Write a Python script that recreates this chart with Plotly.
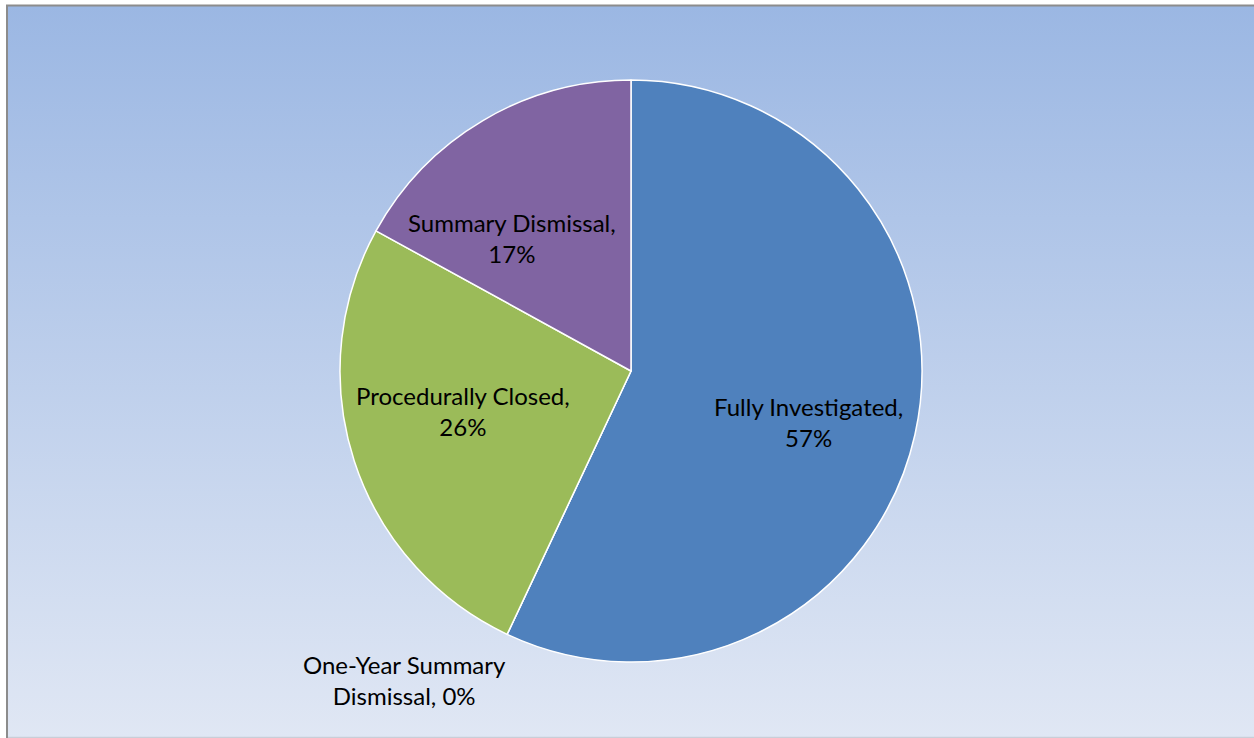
import base64
import plotly.graph_objects as go

categories = ["Fully Investigated", "One-Year Summary Dismissal", "Procedurally Closed", "Summary Dismissal"]
values = [57, 0, 26, 17]
colors = ["#4F81BD", "#C0504D", "#9BBB59", "#8064A2"]
label_text = [
    "Fully Investigated,<br>57%",
    "One-Year Summary<br>Dismissal, 0%",
    "Procedurally Closed,<br>26%",
    "Summary Dismissal,<br>17%",
]
# label anchor positions in pixel space (layout only)
label_pos = [(808, 422), (404, 680), (463, 411), (512, 238)]

W, H = 1254, 738
CX, CY, R = 631, 371, 291

fig = go.Figure()
fig.add_trace(go.Pie(
    labels=categories,
    values=values,
    sort=False,
    direction="clockwise",
    rotation=0,
    marker=dict(colors=colors, line=dict(color="white", width=1.5)),
    textinfo="none",
    hoverinfo="label+percent",
    showlegend=False,
    domain=dict(x=[(CX - 400) / W, (CX + 400) / W], y=[(H - CY - R) / H, (H - CY + R) / H]),
))

# smooth vertical gradient background as an SVG image
svg = (
    '<svg xmlns="http://www.w3.org/2000/svg" width="100" height="100" preserveAspectRatio="none">'
    '<defs><linearGradient id="g" x1="0" y1="0" x2="0" y2="1">'
    '<stop offset="0" stop-color="#9BB7E3"/><stop offset="1" stop-color="#E0E7F4"/>'
    '</linearGradient></defs><rect width="100" height="100" fill="url(#g)"/></svg>'
)
src = "data:image/svg+xml;base64," + base64.b64encode(svg.encode()).decode()
bx0, by0, by1 = 8, 6, 737
images = [dict(source=src, xref="paper", yref="paper", x=bx0 / W, y=1 - by0 / H,
               sizex=(W - bx0) / W, sizey=(by1 - by0) / H, xanchor="left", yanchor="top",
               sizing="stretch", layer="below")]

shapes = [
    dict(type="line", xref="paper", yref="paper", layer="below",
         x0=6 / W, x1=1, y0=1 - 5.5 / H, y1=1 - 5.5 / H, line=dict(color="#8c8c8c", width=2)),
    dict(type="line", xref="paper", yref="paper", layer="below",
         x0=7 / W, x1=7 / W, y0=0, y1=1 - 5 / H, line=dict(color="#8c8c8c", width=2)),
    dict(type="line", xref="paper", yref="paper", layer="below",
         x0=8 / W, x1=1, y0=1 - 737.5 / H, y1=1 - 737.5 / H, line=dict(color="#c9ced8", width=1.5)),
]

annotations = []
for (px, py), txt in zip(label_pos, label_text):
    annotations.append(dict(x=px / W, y=1 - py / H, xref="paper", yref="paper",
                            text=txt, showarrow=False, xanchor="center", yanchor="middle",
                            font=dict(family="Lato, Liberation Sans, sans-serif", size=24, color="black")))

fig.update_layout(
    width=W, height=H,
    margin=dict(l=0, r=0, t=0, b=0),
    paper_bgcolor="white",
    plot_bgcolor="rgba(0,0,0,0)",
    shapes=shapes,
    images=images,
    annotations=annotations,
)
fig.write_html("out.html", config={"displayModeBar": False},
               post_script="document.body.style.margin='0px';")
